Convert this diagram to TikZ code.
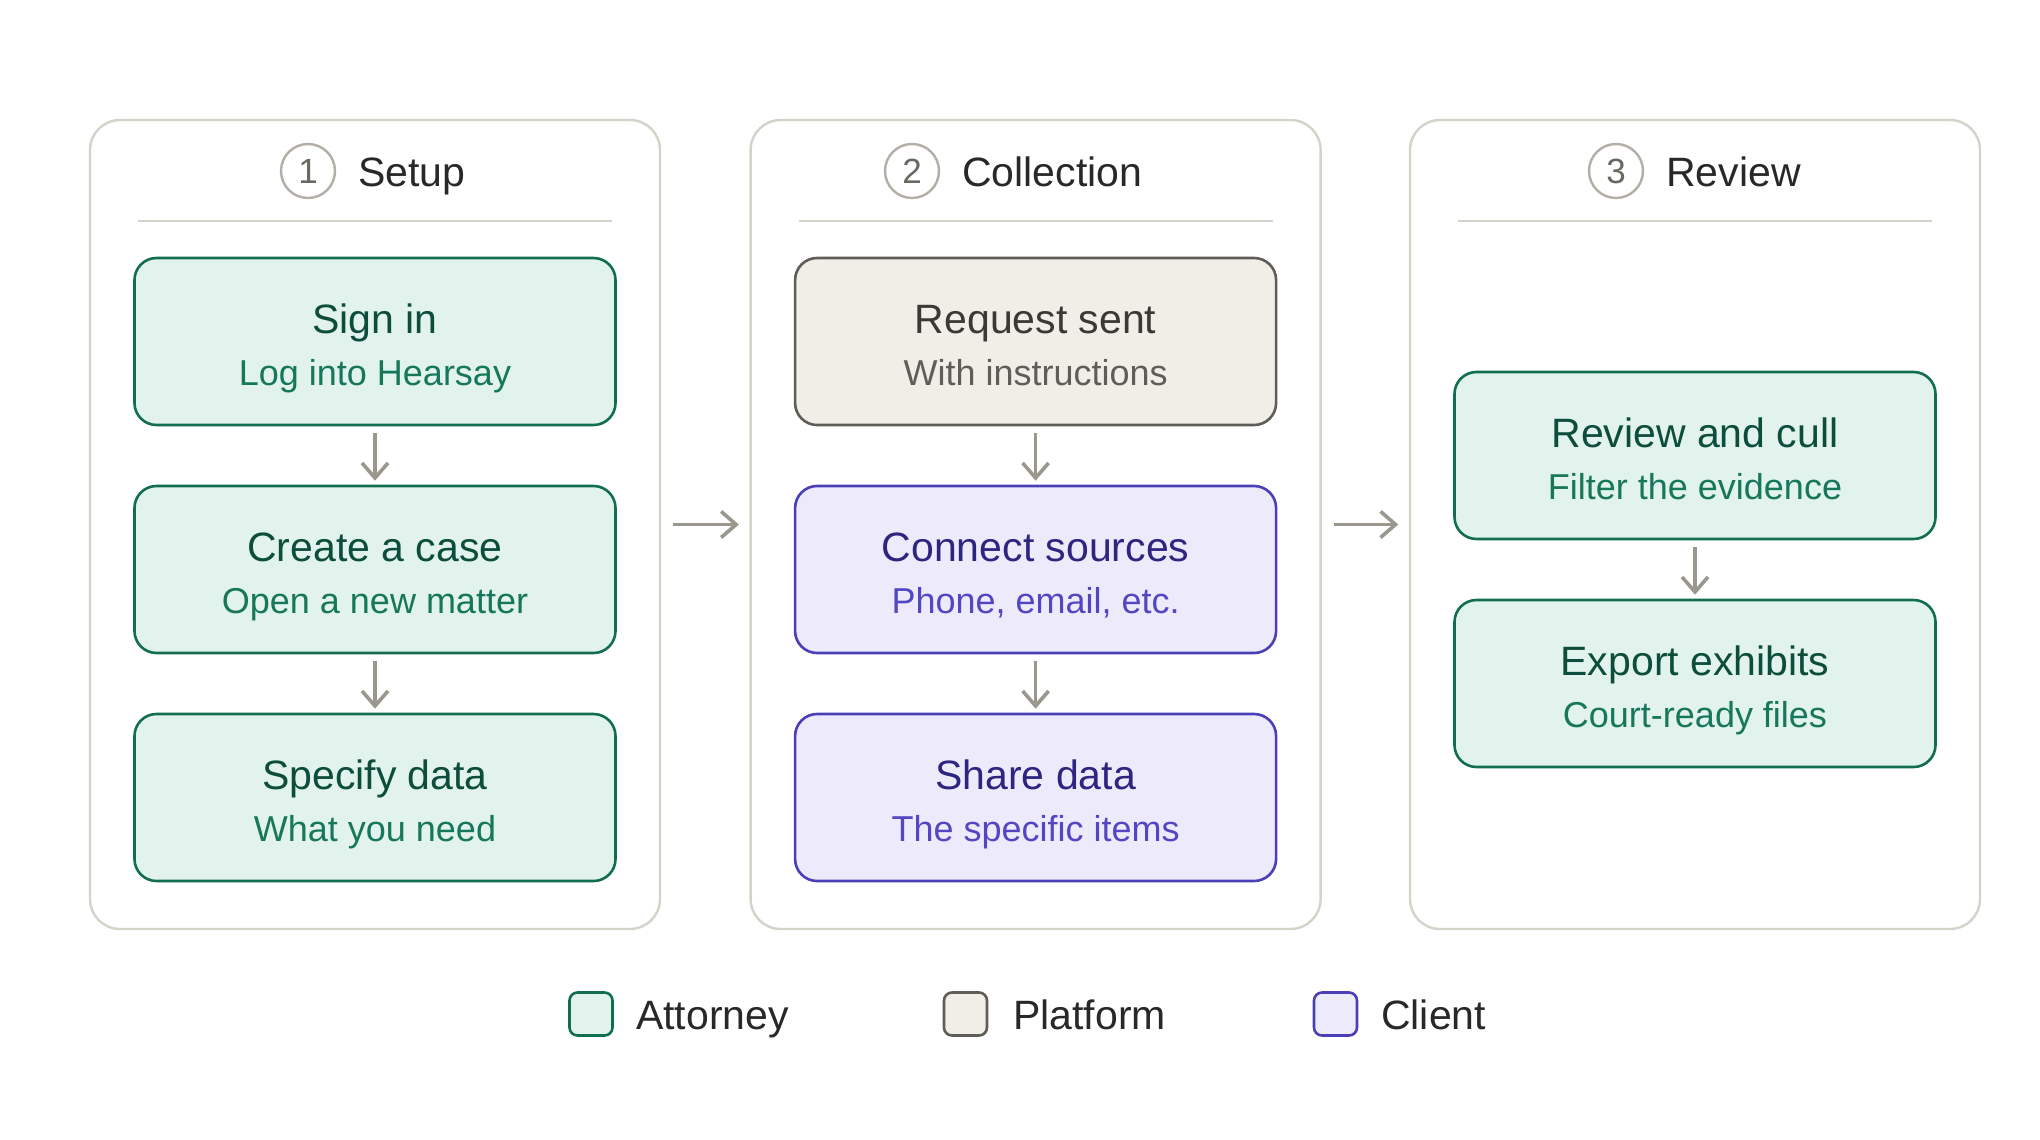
\documentclass[tikz,border=0pt]{standalone}
\usepackage{fontspec}
\setmainfont{Liberation Sans}
\usetikzlibrary{arrows.meta}
\definecolor{attFill}{HTML}{E1F3EC}
\definecolor{attLine}{HTML}{126E52}
\definecolor{attTitle}{HTML}{0C4D3B}
\definecolor{attSub}{HTML}{17775A}
\definecolor{platFill}{HTML}{F1EEE8}
\definecolor{platLine}{HTML}{5F5D58}
\definecolor{platTitle}{HTML}{3B3936}
\definecolor{platSub}{HTML}{5F5D58}
\definecolor{cliFill}{HTML}{EDEBFB}
\definecolor{cliLine}{HTML}{4B3FB8}
\definecolor{cliTitle}{HTML}{2E2580}
\definecolor{cliSub}{HTML}{5346C2}
\definecolor{panelLine}{HTML}{D5D2CA}
\definecolor{circLine}{HTML}{B3AFA7}
\definecolor{numText}{HTML}{6A6761}
\definecolor{headText}{HTML}{2A2826}
\definecolor{arrowCol}{HTML}{9A978F}
\tikzset{
  panel/.style={draw=panelLine, line width=2.4pt, rounded corners=30pt, fill=white,
    minimum width=570pt, minimum height=809pt, inner sep=0pt},
  divider/.style={draw=panelLine, line width=2.4pt},
  numcirc/.style={circle, draw=circLine, line width=2.4pt, minimum size=54pt, inner sep=0pt,
    text=numText, font=\fontsize{35}{42}\selectfont},
  head/.style={anchor=base west, text=headText, font=\fontsize{41}{49}\selectfont, inner sep=0pt},
  stepbox/.style={rectangle, rounded corners=22pt, line width=2.6pt, minimum width=481pt,
    minimum height=167pt, inner sep=0pt},
  attbox/.style={stepbox, draw=attLine, fill=attFill},
  platbox/.style={stepbox, draw=platLine, fill=platFill},
  clibox/.style={stepbox, draw=cliLine, fill=cliFill},
  btitle/.style={anchor=base, inner sep=0pt, font=\fontsize{41}{49}\selectfont},
  bsub/.style={anchor=base, inner sep=0pt, font=\fontsize{36}{43}\selectfont},
  flow/.style={draw=arrowCol, line width=3.6pt,
    -{Straight Barb[length=15pt,width=26pt]}},
  legsq/.style={rectangle, rounded corners=8pt, line width=2.6pt, minimum size=43pt, inner sep=0pt},
  legtext/.style={anchor=base west, inner sep=0pt, text=headText, font=\fontsize{41}{49}\selectfont}
}
\newcommand\mkstep[5]{%
  \node[#2box] (#1) at (#3) {};
  \node[btitle, text=#2Title] (#1t) at ([yshift=8.5pt]#1.center) {#4};
  \node[bsub, text=#2Sub] (#1s) at ([yshift=-43.5pt]#1.center) {#5};
}
\begin{document}
\begin{tikzpicture}[x=1pt,y=-1pt]
\useasboundingbox (0,0) rectangle (2040,1140);
\fill[white] (0,0) rectangle (2040,1140);

% panels
\node[panel] (p1) at (375,524.5) {};
\node[panel] (p2) at (1035.6,524.5) {};
\node[panel] (p3) at (1695,524.5) {};

% headers
\node[numcirc] (c1) at (308,171) {1};
\node[head] (h1) at (358,186) {Setup};
\node[numcirc] (c2) at (912,171) {2};
\node[head] (h2) at (962,186) {Collection};
\node[numcirc] (c3) at (1616,171) {3};
\node[head] (h3) at (1666,186) {Review};

\draw[divider] (138,221) -- (612,221);
\draw[divider] (798.6,221) -- (1272.6,221);
\draw[divider] (1458,221) -- (1932,221);

% steps
\mkstep{a1}{att}{375,341.5}{Sign in}{Log into Hearsay}
\mkstep{a2}{att}{375,569.5}{Create a case}{Open a new matter}
\mkstep{a3}{att}{375,797.5}{Specify data}{What you need}

\mkstep{b1}{plat}{1035.6,341.5}{Request sent}{With instructions}
\mkstep{b2}{cli}{1035.6,569.5}{Connect sources}{Phone, email, etc.}
\mkstep{b3}{cli}{1035.6,797.5}{Share data}{The specific items}

\mkstep{r1}{att}{1695,455.5}{Review and cull}{Filter the evidence}
\mkstep{r2}{att}{1695,683.5}{Export exhibits}{Court-ready files}

% arrows
\draw[flow, shorten <=7pt, shorten >=4pt] (a1) -- (a2);
\draw[flow, shorten <=7pt, shorten >=4pt] (a2) -- (a3);
\draw[flow, shorten <=7pt, shorten >=4pt] (b1) -- (b2);
\draw[flow, shorten <=7pt, shorten >=4pt] (b2) -- (b3);
\draw[flow, shorten <=7pt, shorten >=4pt] (r1) -- (r2);
\draw[flow, shorten <=12pt, shorten >=10.5pt] (p1) -- (p2);
\draw[flow, shorten <=12pt, shorten >=10.5pt] (p2) -- (p3);

% legend
\node[legsq, draw=attLine, fill=attFill] (l1) at (591,1014) {};
\node[legtext] (l1t) at (636,1029) {Attorney};
\node[legsq, draw=platLine, fill=platFill] (l2) at (965.5,1014) {};
\node[legtext] (l2t) at (1013,1029) {Platform};
\node[legsq, draw=cliLine, fill=cliFill] (l3) at (1335.5,1014) {};
\node[legtext] (l3t) at (1381,1029) {Client};
\end{tikzpicture}
\end{document}
